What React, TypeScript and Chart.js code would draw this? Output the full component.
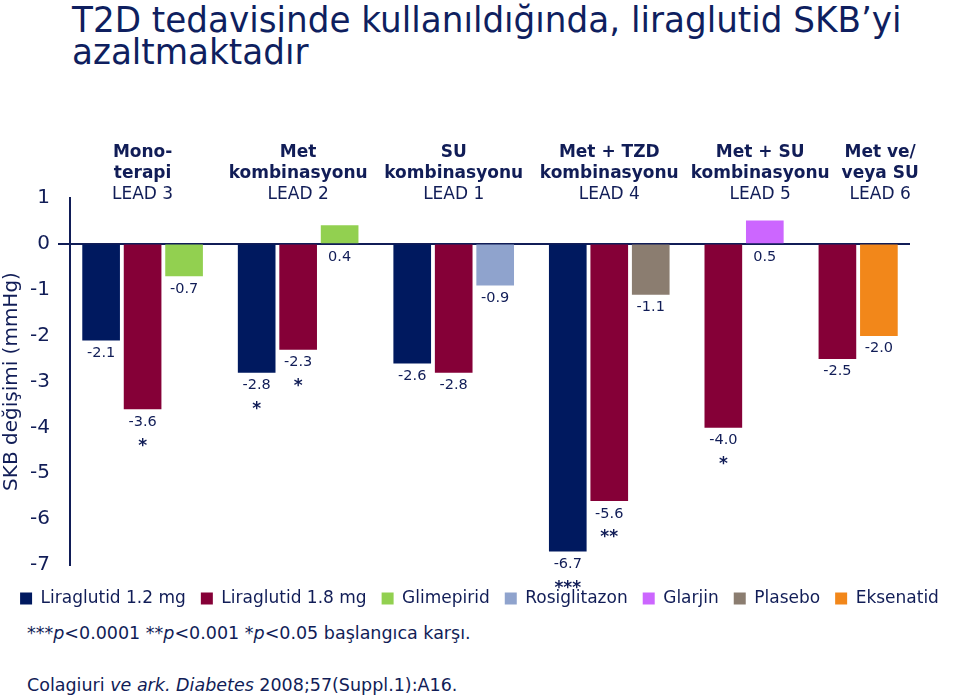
import React, { useEffect, useRef } from 'react';
import { Chart, registerables } from 'chart.js';

Chart.register(...registerables);

// ---------- data ----------
const groupLines: string[][] = [
  ['Mono-', 'terapi', 'LEAD 3'],
  ['Met', 'kombinasyonu', 'LEAD 2'],
  ['SU', 'kombinasyonu', 'LEAD 1'],
  ['Met + TZD', 'kombinasyonu', 'LEAD 4'],
  ['Met + SU', 'kombinasyonu', 'LEAD 5'],
  ['Met ve/', 'veya SU', 'LEAD 6'],
];
const lira12: (number | null)[] = [-2.1, -2.8, -2.6, -6.7, null, null];
const lira18: (number | null)[] = [-3.6, -2.3, -2.8, -5.6, -4.0, -2.5];
const comparatorNames = ['Glimepirid', 'Glimepirid', 'Rosiglitazon', 'Plasebo', 'Glarjin', 'Eksenatid'];
const comparatorValues: (number | null)[] = [-0.7, 0.4, -0.9, -1.1, 0.5, -2.0];
const lira12Sig = ['', '*', '', '***', '', ''];
const lira18Sig = ['*', '*', '', '**', '*', ''];
const seriesNames = [
  'Liraglutid 1.2 mg',
  'Liraglutid 1.8 mg',
  'Glimepirid',
  'Rosiglitazon',
  'Glarjin',
  'Plasebo',
  'Eksenatid',
];
const seriesColors = ['#00195f', '#850037', '#92d050', '#8fa3cd', '#cc66ff', '#8b7d70', '#f2871a'];
const yMin = -7;
const yMax = 1;

// ---------- layout constants ----------
const FONT = "'DejaVu Sans', Verdana, sans-serif";
const NAVY = '#111d57';
const BAR_STEP = 4;
const GROUP_GAP = 7;
const EDGE = 3;

// build slot table
type Bar = { series: number; value: number; sig: string };
const groupBars: Bar[][] = groupLines.map((_, g) => {
  const bars: Bar[] = [];
  if (lira12[g] != null) bars.push({ series: 0, value: lira12[g] as number, sig: lira12Sig[g] });
  if (lira18[g] != null) bars.push({ series: 1, value: lira18[g] as number, sig: lira18Sig[g] });
  if (comparatorValues[g] != null)
    bars.push({ series: seriesNames.indexOf(comparatorNames[g]), value: comparatorValues[g] as number, sig: '' });
  return bars;
});
const groupSlots: number[][] = [];
let cursor = EDGE;
groupBars.forEach((bars) => {
  const slots = bars.map((_, k) => cursor + k * BAR_STEP);
  groupSlots.push(slots);
  cursor = slots[slots.length - 1] + GROUP_GAP;
});
const slotCount = groupSlots[groupSlots.length - 1].slice(-1)[0] + EDGE + 1;
const slotLabels = Array.from({ length: slotCount }, () => '');
const seriesData: (number | null)[][] = seriesNames.map(() => Array(slotCount).fill(null));
const seriesSig: string[][] = seriesNames.map(() => Array(slotCount).fill(''));
groupBars.forEach((bars, g) => {
  bars.forEach((b, k) => {
    seriesData[b.series][groupSlots[g][k]] = b.value;
    seriesSig[b.series][groupSlots[g][k]] = b.sig;
  });
});

const labelPlugin = {
  id: 'valueLabels',
  afterDatasetsDraw(chart: any) {
    const { ctx } = chart;
    const y = chart.scales.y;
    const zeroY = y.getPixelForValue(0);
    ctx.save();
    ctx.fillStyle = NAVY;
    ctx.textAlign = 'center';
    chart.data.datasets.forEach((ds: any, i: number) => {
      const meta = chart.getDatasetMeta(i);
      ds.data.forEach((v: number | null, idx: number) => {
        if (v == null) return;
        const el = meta.data[idx];
        const ly = Math.max(el.y, zeroY) + 13;
        ctx.font = `14.5px ${FONT}`;
        ctx.textBaseline = 'middle';
        ctx.fillText(v.toFixed(1), el.x, ly);
        const sig = seriesSig[i][idx];
        if (sig) {
          ctx.font = `bold 17px ${FONT}`;
          ctx.textBaseline = 'alphabetic';
          ctx.fillText(sig, el.x, ly + 19 + 9.5);
        }
      });
    });
    ctx.restore();
  },
};

const headerPlugin = {
  id: 'groupHeaders',
  afterDraw(chart: any) {
    const { ctx, chartArea } = chart;
    const xs = chart.scales.x;
    const bold = `bold 17px ${FONT}`;
    const norm = `17px ${FONT}`;
    ctx.save();
    const items = groupLines.map((lines, g) => {
      const slots = groupSlots[g];
      const cx = (xs.getPixelForValue(slots[0]) + xs.getPixelForValue(slots[slots.length - 1])) / 2;
      let w = 0;
      lines.forEach((t, i) => {
        ctx.font = i < 2 ? bold : norm;
        w = Math.max(w, ctx.measureText(t).width);
      });
      return { cx, w, lines };
    });
    for (let g = 1; g < items.length; g++) {
      const prevRight = items[g - 1].cx + items[g - 1].w / 2;
      const minCx = prevRight + 12 + items[g].w / 2;
      if (items[g].cx < minCx) items[g].cx = minCx;
    }
    ctx.fillStyle = NAVY;
    ctx.textAlign = 'center';
    ctx.textBaseline = 'middle';
    items.forEach((it) =>
      it.lines.forEach((t, i) => {
        ctx.font = i < 2 ? bold : norm;
        ctx.fillText(t, it.cx, chartArea.top - 45 + i * 21);
      })
    );
    ctx.restore();
  },
};

function BarChart() {
  const ref = useRef<HTMLCanvasElement | null>(null);
  useEffect(() => {
    if (!ref.current) return;
    const chart = new Chart(ref.current, {
      type: 'bar',
      data: {
        labels: slotLabels,
        datasets: seriesNames.map((name, i) => ({
          label: name,
          data: seriesData[i],
          backgroundColor: seriesColors[i],
          borderWidth: 0,
          barThickness: 37,
          grouped: false,
        })) as any,
      },
      options: {
        responsive: true,
        maintainAspectRatio: false,
        animation: false,
        layout: { padding: { top: 98, left: 0, right: 0, bottom: 0 } },
        scales: {
          x: {
            type: 'category',
            offset: false,
            grid: { display: false },
            ticks: { display: false },
            border: { display: false },
            afterFit: (s: any) => {
              s.height = 10;
            },
          },
          y: {
            type: 'linear',
            position: 'left',
            min: yMin,
            max: yMax,
            afterFit: (s: any) => {
              s.width = 70;
            },
            ticks: { stepSize: 1, font: { family: FONT, size: 20 }, color: NAVY, padding: 8 },
            grid: {
              color: (c: any) => (c.tick && c.tick.value === 0 ? NAVY : 'rgba(0,0,0,0)'),
              lineWidth: 2,
              tickLength: 12,
              drawTicks: true,
            },
            border: { display: true, color: NAVY, width: 2 },
            title: {
              display: true,
              text: 'SKB değişimi (mmHg)',
              font: { family: FONT, size: 20 },
              color: NAVY,
              padding: 0,
            },
          },
          yRight: {
            type: 'linear',
            position: 'right',
            display: true,
            grid: { display: false },
            ticks: { display: false },
            border: { display: false },
            afterFit: (s: any) => {
              s.width = 49;
            },
          },
        },
        plugins: {
          legend: {
            position: 'bottom',
            labels: {
              boxWidth: 12,
              boxHeight: 12,
              padding: 15,
              font: { family: FONT, size: 17 },
              color: NAVY,
            },
          },
          tooltip: { enabled: false },
        },
      } as any,
      plugins: [labelPlugin, headerPlugin],
    });
    return () => chart.destroy();
  }, []);
  return <canvas ref={ref} />;
}

export default function App() {
  return (
    <div style={{ position: 'absolute', left: 0, top: 0, width: 959, height: 698, background: '#fff', fontFamily: FONT, color: NAVY }}>
      <div
        style={{
          position: 'absolute',
          left: 72,
          top: 4,
          fontSize: 36,
          lineHeight: '32px',
          whiteSpace: 'nowrap',
          transform: 'scaleX(0.95)',
          transformOrigin: 'left top',
          color: '#0f1f5f',
        }}
      >
        T2D tedavisinde kullanıldığında, liraglutid SKB’yi
        <br />
        azaltmaktadır
      </div>
      <div style={{ position: 'absolute', left: 0, top: 100, width: 959, height: 517 }}>
        <BarChart />
      </div>
      <div style={{ position: 'absolute', left: 27, top: 623, fontSize: 17.5, lineHeight: '20px', whiteSpace: 'nowrap' }}>
        ***<i>p</i>&lt;0.0001 **<i>p</i>&lt;0.001 *<i>p</i>&lt;0.05 başlangıca karşı.
      </div>
      <div style={{ position: 'absolute', left: 27, top: 675, fontSize: 17.5, lineHeight: '20px', whiteSpace: 'nowrap' }}>
        Colagiuri <i>ve ark.</i> <i>Diabetes</i> 2008;57(Suppl.1):A16.
      </div>
    </div>
  );
}
